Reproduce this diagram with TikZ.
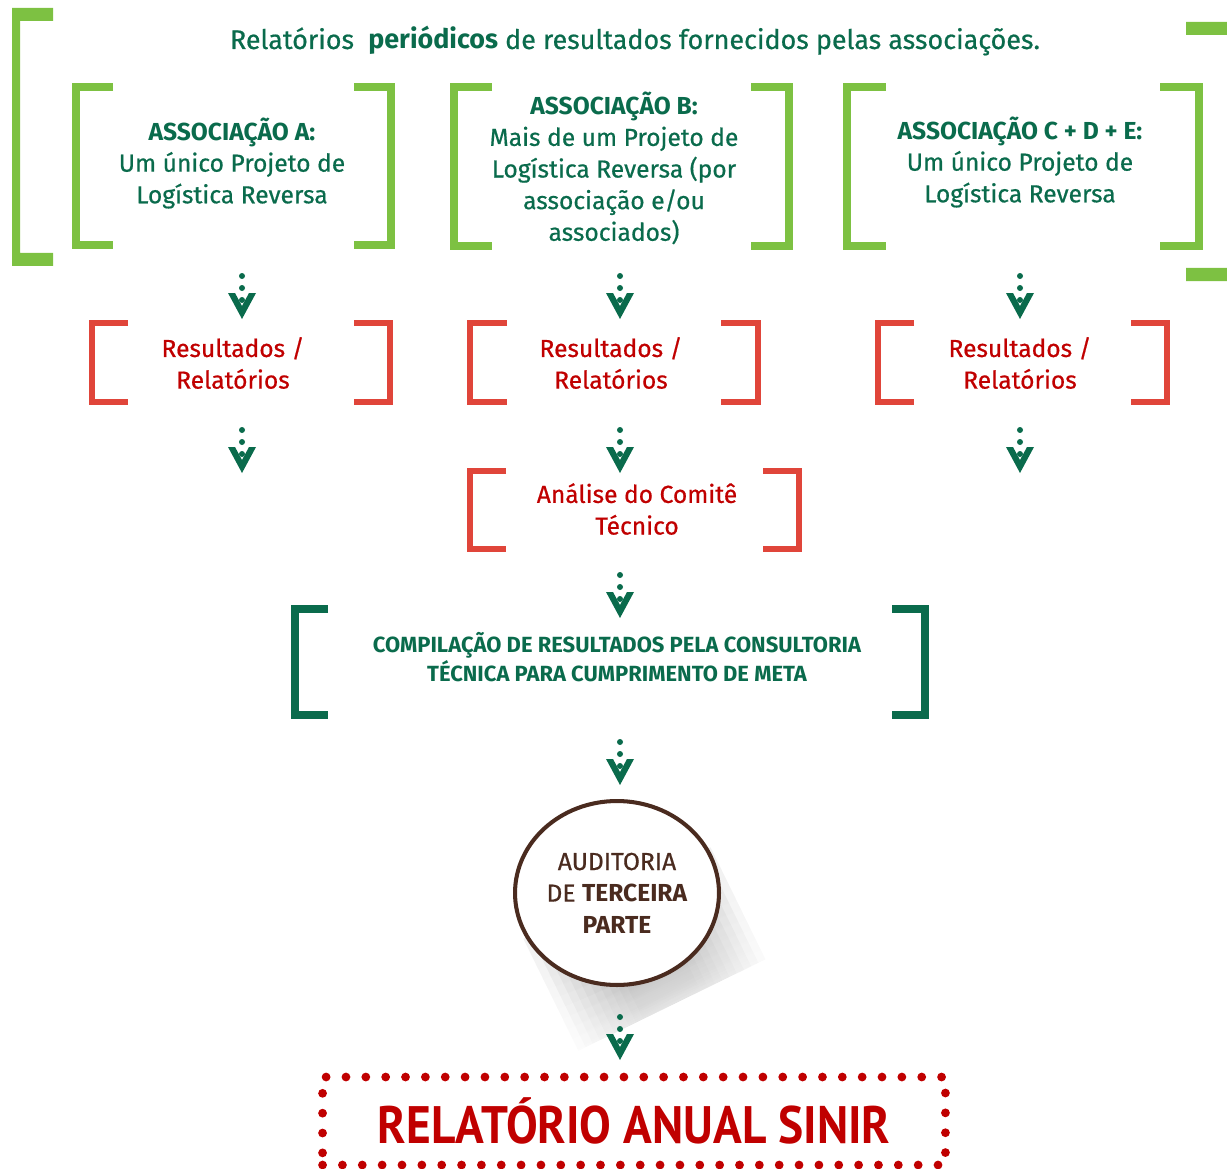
\documentclass[tikz,border=0pt]{standalone}
\usepackage{fontspec}
\setmainfont{Fira Sans}[UprightFeatures={FakeBold=0.6}]
\newfontfamily\narrowfont[FakeStretch=0.9]{PT Sans}
\usetikzlibrary{fadings,shapes.geometric}

\definecolor{leaf}{HTML}{7DC142}
\definecolor{pine}{HTML}{0A6B4C}
\definecolor{brick}{HTML}{E0453A}
\definecolor{crimson}{HTML}{C00000}
\definecolor{bark}{HTML}{4A2B1F}

\tikzfading[name=shadowfade, top color=transparent!0, bottom color=transparent!100]

\newcommand{\brackets}[6]{%
  \draw[#1] (#2+#6,#3) -- (#2,#3) -- (#2,#5) -- (#2+#6,#5);
  \draw[#1] (#4-#6,#3) -- (#4,#3) -- (#4,#5) -- (#4-#6,#5);}

\tikzset{
  greenbrk/.style={leaf, line width=4.5pt},
  redbrk/.style={brick, line width=3.4pt},
  pinebrk/.style={pine, line width=4.3pt},
  greentxt/.style={pine, align=center},
  redtxt/.style={crimson, align=center},
  vdown/.pic={
    \fill[pine] (0,0) circle (3) (0,12) circle (3) (0,24) circle (3);
    \fill[pine] (-14,17) -- (-7,17) -- (0,30) -- (7,17) -- (14,17) -- (0,43) -- cycle;
  }
}

\begin{document}
\begin{tikzpicture}[x=0.02cm, y=-0.02cm, line join=miter, font=\fontsize{14}{18}\selectfont]
    \useasboundingbox (0,0) rectangle (1227,1169);
    \clip (0,0) rectangle (1227,1169);
    % outer brackets
    \fill[leaf] (12,8) rectangle (53,21) (12,8) rectangle (20,266) (12,253) rectangle (53,266);
    \fill[leaf] (1186,22) rectangle (1240,35) (1232,22) rectangle (1240,281) (1186,268) rectangle (1240,281);
    \node[pine, font=\fontsize{15.3}{18}\selectfont] (title) at (635,41) {Relatórios\ \ \textbf{periódicos} de resultados fornecidos pelas associações.};

    \node[greentxt] (assocA) at (232,163) {\textbf{ASSOCIAÇÃO A:}\\Um único Projeto de\\Logística Reversa};
    \node[greentxt] (assocB) at (614,168) {\textbf{ASSOCIAÇÃO B:}\\Mais de um Projeto de\\Logística Reversa (por\\associação e/ou\\associados)};
    \node[greentxt] (assocC) at (1020,162) {\textbf{ASSOCIAÇÃO C + D + E:}\\Um único Projeto de\\Logística Reversa};
    \brackets{greenbrk}{76}{87}{391}{245}{37}
    \brackets{greenbrk}{454}{87}{789}{246}{38}
    \brackets{greenbrk}{847}{87}{1199}{246}{39}

    \node[redtxt] (resA) at (233,363) {Resultados /\\Relatórios};
    \node[redtxt] (resB) at (611,363) {Resultados /\\Relatórios};
    \node[redtxt] (resC) at (1020,363) {Resultados /\\Relatórios};
    \brackets{redbrk}{92}{323}{390}{402}{36}
    \brackets{redbrk}{470}{323}{758}{402}{37}
    \brackets{redbrk}{878}{323}{1167}{402}{36}

    \node[redtxt] (comite) at (637,509) {Análise do Comitê\\Técnico};
    \brackets{redbrk}{470}{471}{799}{549}{36}

    \node[greentxt, font=\bfseries\fontsize{12.5}{16.4}\selectfont] (compil) at (617,657)
        {COMPILAÇÃO DE RESULTADOS PELA CONSULTORIA\\TÉCNICA PARA CUMPRIMENTO DE META};
    \brackets{pinebrk}{295}{609}{925}{715}{33}

    % shadow of the audit circle
    \foreach \r in {104,96,...,32}
        \fill[black, opacity=0.075, path fading=shadowfade, fading angle=26]
            (617+0.9*\r,893-0.44*\r) -- (672+0.9*\r,1005-0.44*\r)
            -- (672-0.9*\r,1005+0.44*\r) -- (617-0.9*\r,893+0.44*\r) -- cycle;
    \node[ellipse, draw=bark, line width=2.3pt, fill=white, inner sep=0pt,
        minimum width=4.08cm, minimum height=3.68cm, text=bark, align=center] (audit) at (617,893)
        {AUDITORIA\\DE \textbf{TERCEIRA}\\\textbf{PARTE}};

    \node[crimson, draw, line width=5pt, dash pattern=on 0pt off 11.3pt, line cap=round,
        minimum width=12.46cm, minimum height=1.76cm,
        font=\narrowfont\bfseries\fontsize{30}{30}\selectfont] (sinir) at (634,1121) {RELATÓRIO ANUAL SINIR};

    \foreach \x in {242,620,1020} {
        \pic at (\x,276) {vdown};
        \pic at (\x,430) {vdown};
    }
    \pic at (620,575) {vdown};
    \pic at (620,742) {vdown};
    \pic at (620,1017) {vdown};
\end{tikzpicture}
\end{document}
